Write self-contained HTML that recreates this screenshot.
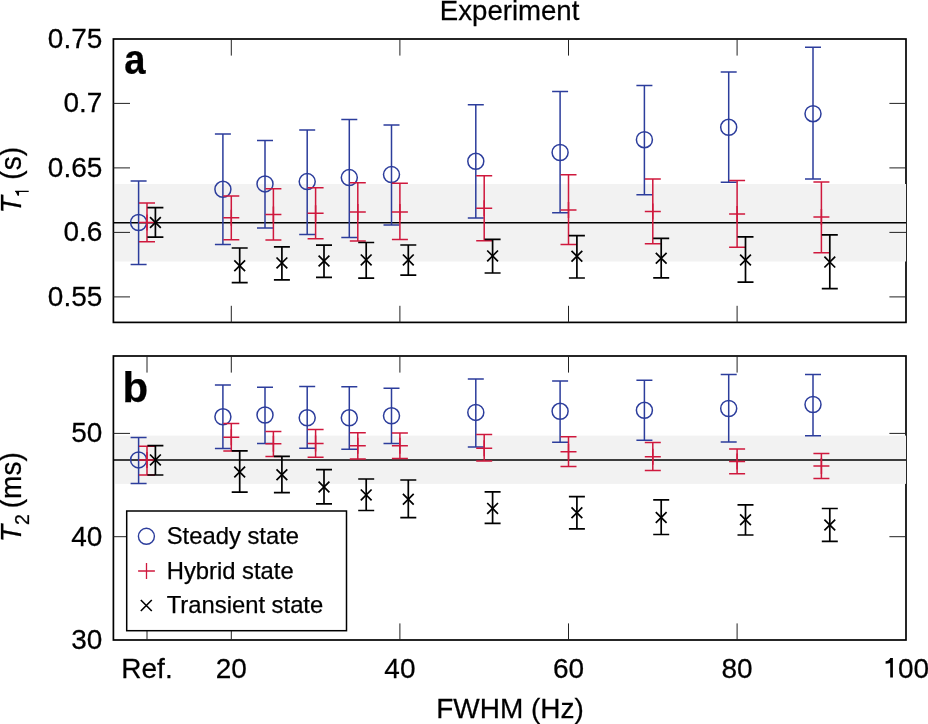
<!DOCTYPE html>
<html><head><meta charset="utf-8"><style>
html,body{margin:0;padding:0;background:#fff;}
body{width:928px;height:724px;overflow:hidden;}
svg{display:block;will-change:transform;}
text{font-family:"Liberation Sans", sans-serif;font-size:28px;fill:#000;stroke:#000;stroke-width:0.25px;}
</style></head><body>
<svg width="928" height="724" viewBox="0 0 928 724">
<rect width="928" height="724" fill="#fff"/>
<rect x="113.4" y="39.0" width="792.6" height="283.4" fill="#fff" stroke="#000" stroke-width="1.7"/>
<rect x="115.2" y="184.0" width="790.8" height="77.5" fill="#f2f2f2"/>
<path d="M231.3 39.0v16.6M231.3 322.4v-16.6M399.9 39.0v16.6M399.9 322.4v-16.6M568.5 39.0v16.6M568.5 322.4v-16.6M737.1 39.0v16.6M737.1 322.4v-16.6M113.4 103.4h16.6M906.0 103.4h-16.6M113.4 167.9h16.6M906.0 167.9h-16.6M113.4 232.4h16.6M906.0 232.4h-16.6M113.4 296.9h16.6M906.0 296.9h-16.6" stroke="#222" stroke-width="1" fill="none"/>
<path d="M113.4 222.75H906.0" stroke="#000" stroke-width="1.6"/>
<path d="M138.6 180.9V264.4M130.6 180.9H146.6M130.6 264.4H146.6" stroke="#2c3d9c" stroke-width="1.5" fill="none"/>
<circle cx="138.6" cy="222.5" r="8" stroke="#2c3d9c" stroke-width="1.5" fill="none"/>
<path d="M222.9 134.1V244.5M214.9 134.1H230.9M214.9 244.5H230.9" stroke="#2c3d9c" stroke-width="1.5" fill="none"/>
<circle cx="222.9" cy="189.3" r="8" stroke="#2c3d9c" stroke-width="1.5" fill="none"/>
<path d="M265.0 140.4V228.1M257.0 140.4H273.0M257.0 228.1H273.0" stroke="#2c3d9c" stroke-width="1.5" fill="none"/>
<circle cx="265.0" cy="183.9" r="8" stroke="#2c3d9c" stroke-width="1.5" fill="none"/>
<path d="M307.2 129.9V234.4M299.2 129.9H315.2M299.2 234.4H315.2" stroke="#2c3d9c" stroke-width="1.5" fill="none"/>
<circle cx="307.2" cy="181.6" r="8" stroke="#2c3d9c" stroke-width="1.5" fill="none"/>
<path d="M349.3 119.4V237.5M341.3 119.4H357.3M341.3 237.5H357.3" stroke="#2c3d9c" stroke-width="1.5" fill="none"/>
<circle cx="349.3" cy="177.6" r="8" stroke="#2c3d9c" stroke-width="1.5" fill="none"/>
<path d="M391.5 124.9V225.1M383.5 124.9H399.5M383.5 225.1H399.5" stroke="#2c3d9c" stroke-width="1.5" fill="none"/>
<circle cx="391.5" cy="174.6" r="8" stroke="#2c3d9c" stroke-width="1.5" fill="none"/>
<path d="M475.8 104.7V218.0M467.8 104.7H483.8M467.8 218.0H483.8" stroke="#2c3d9c" stroke-width="1.5" fill="none"/>
<circle cx="475.8" cy="161.3" r="8" stroke="#2c3d9c" stroke-width="1.5" fill="none"/>
<path d="M560.1 91.6V212.8M552.1 91.6H568.1M552.1 212.8H568.1" stroke="#2c3d9c" stroke-width="1.5" fill="none"/>
<circle cx="560.1" cy="152.5" r="8" stroke="#2c3d9c" stroke-width="1.5" fill="none"/>
<path d="M644.4 85.4V194.7M636.4 85.4H652.4M636.4 194.7H652.4" stroke="#2c3d9c" stroke-width="1.5" fill="none"/>
<circle cx="644.4" cy="139.7" r="8" stroke="#2c3d9c" stroke-width="1.5" fill="none"/>
<path d="M728.7 72.1V182.2M720.7 72.1H736.7M720.7 182.2H736.7" stroke="#2c3d9c" stroke-width="1.5" fill="none"/>
<circle cx="728.7" cy="127.3" r="8" stroke="#2c3d9c" stroke-width="1.5" fill="none"/>
<path d="M813.0 47.2V179.1M805.0 47.2H821.0M805.0 179.1H821.0" stroke="#2c3d9c" stroke-width="1.5" fill="none"/>
<circle cx="813.0" cy="113.7" r="8" stroke="#2c3d9c" stroke-width="1.5" fill="none"/>
<path d="M147.0 203.1V241.8M139.0 203.1H155.0M139.0 241.8H155.0" stroke="#cf183d" stroke-width="1.5" fill="none"/>
<path d="M139.0 222.5H155.0M147.0 214.5V230.5" stroke="#cf183d" stroke-width="1.5" fill="none"/>
<path d="M231.3 195.9V239.8M223.3 195.9H239.3M223.3 239.8H239.3" stroke="#cf183d" stroke-width="1.5" fill="none"/>
<path d="M223.3 217.7H239.3M231.3 209.7V225.7" stroke="#cf183d" stroke-width="1.5" fill="none"/>
<path d="M273.4 188.8V240.1M265.4 188.8H281.4M265.4 240.1H281.4" stroke="#cf183d" stroke-width="1.5" fill="none"/>
<path d="M265.4 214.5H281.4M273.4 206.5V222.5" stroke="#cf183d" stroke-width="1.5" fill="none"/>
<path d="M315.6 187.7V238.7M307.6 187.7H323.6M307.6 238.7H323.6" stroke="#cf183d" stroke-width="1.5" fill="none"/>
<path d="M307.6 213.3H323.6M315.6 205.3V221.3" stroke="#cf183d" stroke-width="1.5" fill="none"/>
<path d="M357.8 182.8V241.0M349.8 182.8H365.8M349.8 241.0H365.8" stroke="#cf183d" stroke-width="1.5" fill="none"/>
<path d="M349.8 211.9H365.8M357.8 203.9V219.9" stroke="#cf183d" stroke-width="1.5" fill="none"/>
<path d="M399.9 183.3V239.5M391.9 183.3H407.9M391.9 239.5H407.9" stroke="#cf183d" stroke-width="1.5" fill="none"/>
<path d="M391.9 211.9H407.9M399.9 203.9V219.9" stroke="#cf183d" stroke-width="1.5" fill="none"/>
<path d="M484.2 175.7V240.7M476.2 175.7H492.2M476.2 240.7H492.2" stroke="#cf183d" stroke-width="1.5" fill="none"/>
<path d="M476.2 208.3H492.2M484.2 200.3V216.3" stroke="#cf183d" stroke-width="1.5" fill="none"/>
<path d="M568.5 174.8V244.6M560.5 174.8H576.5M560.5 244.6H576.5" stroke="#cf183d" stroke-width="1.5" fill="none"/>
<path d="M560.5 209.9H576.5M568.5 201.9V217.9" stroke="#cf183d" stroke-width="1.5" fill="none"/>
<path d="M652.8 179.0V243.7M644.8 179.0H660.8M644.8 243.7H660.8" stroke="#cf183d" stroke-width="1.5" fill="none"/>
<path d="M644.8 211.6H660.8M652.8 203.6V219.6" stroke="#cf183d" stroke-width="1.5" fill="none"/>
<path d="M737.1 180.6V247.3M729.1 180.6H745.1M729.1 247.3H745.1" stroke="#cf183d" stroke-width="1.5" fill="none"/>
<path d="M729.1 214.0H745.1M737.1 206.0V222.0" stroke="#cf183d" stroke-width="1.5" fill="none"/>
<path d="M821.4 181.9V252.7M813.4 181.9H829.4M813.4 252.7H829.4" stroke="#cf183d" stroke-width="1.5" fill="none"/>
<path d="M813.4 217.1H829.4M821.4 209.1V225.1" stroke="#cf183d" stroke-width="1.5" fill="none"/>
<path d="M155.4 207.6V237.1M147.4 207.6H163.4M147.4 237.1H163.4" stroke="#000" stroke-width="1.7" fill="none"/>
<path d="M150.0 217.1L160.8 227.9M150.0 227.9L160.8 217.1" stroke="#000" stroke-width="1.7" fill="none"/>
<path d="M239.7 248.0V282.6M231.7 248.0H247.7M231.7 282.6H247.7" stroke="#000" stroke-width="1.7" fill="none"/>
<path d="M234.3 260.3L245.1 271.1M234.3 271.1L245.1 260.3" stroke="#000" stroke-width="1.7" fill="none"/>
<path d="M281.9 246.9V279.8M273.9 246.9H289.9M273.9 279.8H289.9" stroke="#000" stroke-width="1.7" fill="none"/>
<path d="M276.5 257.5L287.3 268.3M276.5 268.3L287.3 257.5" stroke="#000" stroke-width="1.7" fill="none"/>
<path d="M324.0 245.2V277.4M316.0 245.2H332.0M316.0 277.4H332.0" stroke="#000" stroke-width="1.7" fill="none"/>
<path d="M318.6 255.6L329.4 266.4M318.6 266.4L329.4 255.6" stroke="#000" stroke-width="1.7" fill="none"/>
<path d="M366.2 242.5V278.1M358.2 242.5H374.2M358.2 278.1H374.2" stroke="#000" stroke-width="1.7" fill="none"/>
<path d="M360.8 254.5L371.6 265.3M360.8 265.3L371.6 254.5" stroke="#000" stroke-width="1.7" fill="none"/>
<path d="M408.3 245.0V275.1M400.3 245.0H416.3M400.3 275.1H416.3" stroke="#000" stroke-width="1.7" fill="none"/>
<path d="M402.9 254.5L413.7 265.3M402.9 265.3L413.7 254.5" stroke="#000" stroke-width="1.7" fill="none"/>
<path d="M492.6 239.3V273.0M484.6 239.3H500.6M484.6 273.0H500.6" stroke="#000" stroke-width="1.7" fill="none"/>
<path d="M487.2 250.5L498.0 261.3M487.2 261.3L498.0 250.5" stroke="#000" stroke-width="1.7" fill="none"/>
<path d="M576.9 235.7V278.0M568.9 235.7H584.9M568.9 278.0H584.9" stroke="#000" stroke-width="1.7" fill="none"/>
<path d="M571.5 250.8L582.3 261.6M571.5 261.6L582.3 250.8" stroke="#000" stroke-width="1.7" fill="none"/>
<path d="M661.2 238.3V277.9M653.2 238.3H669.2M653.2 277.9H669.2" stroke="#000" stroke-width="1.7" fill="none"/>
<path d="M655.8 252.9L666.6 263.7M655.8 263.7L666.6 252.9" stroke="#000" stroke-width="1.7" fill="none"/>
<path d="M745.5 236.8V282.2M737.5 236.8H753.5M737.5 282.2H753.5" stroke="#000" stroke-width="1.7" fill="none"/>
<path d="M740.1 254.6L750.9 265.4M740.1 265.4L750.9 254.6" stroke="#000" stroke-width="1.7" fill="none"/>
<path d="M829.8 234.8V288.6M821.8 234.8H837.8M821.8 288.6H837.8" stroke="#000" stroke-width="1.7" fill="none"/>
<path d="M824.4 256.7L835.2 267.5M824.4 267.5L835.2 256.7" stroke="#000" stroke-width="1.7" fill="none"/>
<rect x="113.4" y="356.0" width="792.6" height="284.0" fill="#fff" stroke="#000" stroke-width="1.7"/>
<rect x="115.2" y="435.6" width="790.8" height="48.3" fill="#f2f2f2"/>
<path d="M147.0 356.0v16.6M147.0 640.0v-16.6M231.3 356.0v16.6M231.3 640.0v-16.6M399.9 356.0v16.6M399.9 640.0v-16.6M568.5 356.0v16.6M568.5 640.0v-16.6M737.1 356.0v16.6M737.1 640.0v-16.6M113.4 536.7h16.6M906.0 536.7h-16.6M113.4 433.4h16.6M906.0 433.4h-16.6" stroke="#222" stroke-width="1" fill="none"/>
<path d="M113.4 460.0H906.0" stroke="#000" stroke-width="1.6"/>
<path d="M138.6 437.6V483.5M130.6 437.6H146.6M130.6 483.5H146.6" stroke="#2c3d9c" stroke-width="1.5" fill="none"/>
<circle cx="138.6" cy="459.9" r="8" stroke="#2c3d9c" stroke-width="1.5" fill="none"/>
<path d="M222.9 384.9V448.6M214.9 384.9H230.9M214.9 448.6H230.9" stroke="#2c3d9c" stroke-width="1.5" fill="none"/>
<circle cx="222.9" cy="416.8" r="8" stroke="#2c3d9c" stroke-width="1.5" fill="none"/>
<path d="M265.0 387.2V443.6M257.0 387.2H273.0M257.0 443.6H273.0" stroke="#2c3d9c" stroke-width="1.5" fill="none"/>
<circle cx="265.0" cy="415.0" r="8" stroke="#2c3d9c" stroke-width="1.5" fill="none"/>
<path d="M307.2 386.5V448.3M299.2 386.5H315.2M299.2 448.3H315.2" stroke="#2c3d9c" stroke-width="1.5" fill="none"/>
<circle cx="307.2" cy="417.8" r="8" stroke="#2c3d9c" stroke-width="1.5" fill="none"/>
<path d="M349.3 386.7V449.3M341.3 386.7H357.3M341.3 449.3H357.3" stroke="#2c3d9c" stroke-width="1.5" fill="none"/>
<circle cx="349.3" cy="417.8" r="8" stroke="#2c3d9c" stroke-width="1.5" fill="none"/>
<path d="M391.5 388.2V443.5M383.5 388.2H399.5M383.5 443.5H399.5" stroke="#2c3d9c" stroke-width="1.5" fill="none"/>
<circle cx="391.5" cy="415.8" r="8" stroke="#2c3d9c" stroke-width="1.5" fill="none"/>
<path d="M475.8 378.9V447.0M467.8 378.9H483.8M467.8 447.0H483.8" stroke="#2c3d9c" stroke-width="1.5" fill="none"/>
<circle cx="475.8" cy="412.4" r="8" stroke="#2c3d9c" stroke-width="1.5" fill="none"/>
<path d="M560.1 381.1V442.2M552.1 381.1H568.1M552.1 442.2H568.1" stroke="#2c3d9c" stroke-width="1.5" fill="none"/>
<circle cx="560.1" cy="411.3" r="8" stroke="#2c3d9c" stroke-width="1.5" fill="none"/>
<path d="M644.4 380.3V440.3M636.4 380.3H652.4M636.4 440.3H652.4" stroke="#2c3d9c" stroke-width="1.5" fill="none"/>
<circle cx="644.4" cy="410.3" r="8" stroke="#2c3d9c" stroke-width="1.5" fill="none"/>
<path d="M728.7 374.5V442.0M720.7 374.5H736.7M720.7 442.0H736.7" stroke="#2c3d9c" stroke-width="1.5" fill="none"/>
<circle cx="728.7" cy="408.5" r="8" stroke="#2c3d9c" stroke-width="1.5" fill="none"/>
<path d="M813.0 374.4V435.7M805.0 374.4H821.0M805.0 435.7H821.0" stroke="#2c3d9c" stroke-width="1.5" fill="none"/>
<circle cx="813.0" cy="404.5" r="8" stroke="#2c3d9c" stroke-width="1.5" fill="none"/>
<path d="M147.0 446.2V474.9M139.0 446.2H155.0M139.0 474.9H155.0" stroke="#cf183d" stroke-width="1.5" fill="none"/>
<path d="M139.0 459.9H155.0M147.0 451.9V467.9" stroke="#cf183d" stroke-width="1.5" fill="none"/>
<path d="M231.3 423.5V451.0M223.3 423.5H239.3M223.3 451.0H239.3" stroke="#cf183d" stroke-width="1.5" fill="none"/>
<path d="M223.3 437.3H239.3M231.3 429.3V445.3" stroke="#cf183d" stroke-width="1.5" fill="none"/>
<path d="M273.4 431.6V456.4M265.4 431.6H281.4M265.4 456.4H281.4" stroke="#cf183d" stroke-width="1.5" fill="none"/>
<path d="M265.4 443.8H281.4M273.4 435.8V451.8" stroke="#cf183d" stroke-width="1.5" fill="none"/>
<path d="M315.6 429.6V457.2M307.6 429.6H323.6M307.6 457.2H323.6" stroke="#cf183d" stroke-width="1.5" fill="none"/>
<path d="M307.6 443.5H323.6M315.6 435.5V451.5" stroke="#cf183d" stroke-width="1.5" fill="none"/>
<path d="M357.8 432.7V459.1M349.8 432.7H365.8M349.8 459.1H365.8" stroke="#cf183d" stroke-width="1.5" fill="none"/>
<path d="M349.8 445.8H365.8M357.8 437.8V453.8" stroke="#cf183d" stroke-width="1.5" fill="none"/>
<path d="M399.9 433.1V458.5M391.9 433.1H407.9M391.9 458.5H407.9" stroke="#cf183d" stroke-width="1.5" fill="none"/>
<path d="M391.9 445.7H407.9M399.9 437.7V453.7" stroke="#cf183d" stroke-width="1.5" fill="none"/>
<path d="M484.2 434.5V460.9M476.2 434.5H492.2M476.2 460.9H492.2" stroke="#cf183d" stroke-width="1.5" fill="none"/>
<path d="M476.2 448.2H492.2M484.2 440.2V456.2" stroke="#cf183d" stroke-width="1.5" fill="none"/>
<path d="M568.5 436.7V466.5M560.5 436.7H576.5M560.5 466.5H576.5" stroke="#cf183d" stroke-width="1.5" fill="none"/>
<path d="M560.5 451.7H576.5M568.5 443.7V459.7" stroke="#cf183d" stroke-width="1.5" fill="none"/>
<path d="M652.8 442.5V470.6M644.8 442.5H660.8M644.8 470.6H660.8" stroke="#cf183d" stroke-width="1.5" fill="none"/>
<path d="M644.8 456.7H660.8M652.8 448.7V464.7" stroke="#cf183d" stroke-width="1.5" fill="none"/>
<path d="M737.1 449.0V473.8M729.1 449.0H745.1M729.1 473.8H745.1" stroke="#cf183d" stroke-width="1.5" fill="none"/>
<path d="M729.1 461.5H745.1M737.1 453.5V469.5" stroke="#cf183d" stroke-width="1.5" fill="none"/>
<path d="M821.4 453.5V478.4M813.4 453.5H829.4M813.4 478.4H829.4" stroke="#cf183d" stroke-width="1.5" fill="none"/>
<path d="M813.4 466.1H829.4M821.4 458.1V474.1" stroke="#cf183d" stroke-width="1.5" fill="none"/>
<path d="M155.4 445.7V475.0M147.4 445.7H163.4M147.4 475.0H163.4" stroke="#000" stroke-width="1.7" fill="none"/>
<path d="M150.0 454.5L160.8 465.3M150.0 465.3L160.8 454.5" stroke="#000" stroke-width="1.7" fill="none"/>
<path d="M239.7 450.8V492.1M231.7 450.8H247.7M231.7 492.1H247.7" stroke="#000" stroke-width="1.7" fill="none"/>
<path d="M234.3 466.6L245.1 477.4M234.3 477.4L245.1 466.6" stroke="#000" stroke-width="1.7" fill="none"/>
<path d="M281.9 456.4V492.6M273.9 456.4H289.9M273.9 492.6H289.9" stroke="#000" stroke-width="1.7" fill="none"/>
<path d="M276.5 469.3L287.3 480.1M276.5 480.1L287.3 469.3" stroke="#000" stroke-width="1.7" fill="none"/>
<path d="M324.0 469.6V503.8M316.0 469.6H332.0M316.0 503.8H332.0" stroke="#000" stroke-width="1.7" fill="none"/>
<path d="M318.6 481.6L329.4 492.4M318.6 492.4L329.4 481.6" stroke="#000" stroke-width="1.7" fill="none"/>
<path d="M366.2 479.0V510.5M358.2 479.0H374.2M358.2 510.5H374.2" stroke="#000" stroke-width="1.7" fill="none"/>
<path d="M360.8 489.5L371.6 500.3M360.8 500.3L371.6 489.5" stroke="#000" stroke-width="1.7" fill="none"/>
<path d="M408.3 480.0V517.6M400.3 480.0H416.3M400.3 517.6H416.3" stroke="#000" stroke-width="1.7" fill="none"/>
<path d="M402.9 493.8L413.7 504.6M402.9 504.6L413.7 493.8" stroke="#000" stroke-width="1.7" fill="none"/>
<path d="M492.6 491.8V523.4M484.6 491.8H500.6M484.6 523.4H500.6" stroke="#000" stroke-width="1.7" fill="none"/>
<path d="M487.2 503.0L498.0 513.8M487.2 513.8L498.0 503.0" stroke="#000" stroke-width="1.7" fill="none"/>
<path d="M576.9 496.7V528.9M568.9 496.7H584.9M568.9 528.9H584.9" stroke="#000" stroke-width="1.7" fill="none"/>
<path d="M571.5 507.4L582.3 518.2M571.5 518.2L582.3 507.4" stroke="#000" stroke-width="1.7" fill="none"/>
<path d="M661.2 499.9V534.5M653.2 499.9H669.2M653.2 534.5H669.2" stroke="#000" stroke-width="1.7" fill="none"/>
<path d="M655.8 512.1L666.6 522.9M655.8 522.9L666.6 512.1" stroke="#000" stroke-width="1.7" fill="none"/>
<path d="M745.5 504.8V535.0M737.5 504.8H753.5M737.5 535.0H753.5" stroke="#000" stroke-width="1.7" fill="none"/>
<path d="M740.1 514.4L750.9 525.2M740.1 525.2L750.9 514.4" stroke="#000" stroke-width="1.7" fill="none"/>
<path d="M829.8 508.5V541.3M821.8 508.5H837.8M821.8 541.3H837.8" stroke="#000" stroke-width="1.7" fill="none"/>
<path d="M824.4 519.6L835.2 530.4M824.4 530.4L835.2 519.6" stroke="#000" stroke-width="1.7" fill="none"/>
<text transform="matrix(1 0 0 1.01 102.30 47.90)" text-anchor="end">0.75</text>
<text transform="matrix(1 0 0 1.01 102.30 112.40)" text-anchor="end">0.7</text>
<text transform="matrix(1 0 0 1.01 102.30 176.90)" text-anchor="end">0.65</text>
<text transform="matrix(1 0 0 1.01 102.30 241.40)" text-anchor="end">0.6</text>
<text transform="matrix(1 0 0 1.01 102.30 305.90)" text-anchor="end">0.55</text>
<text transform="matrix(1 0 0 1.01 102.30 649.00)" text-anchor="end">30</text>
<text transform="matrix(1 0 0 1.01 102.30 545.70)" text-anchor="end">40</text>
<text transform="matrix(1 0 0 1.01 102.30 442.40)" text-anchor="end">50</text>
<text transform="matrix(1 0 0 1.01 147.00 678.40)" text-anchor="middle">Ref.</text>
<text transform="matrix(1 0 0 1.01 231.30 677.70)" text-anchor="middle">20</text>
<text transform="matrix(1 0 0 1.01 399.90 677.70)" text-anchor="middle">40</text>
<text transform="matrix(1 0 0 1.01 568.50 677.70)" text-anchor="middle">60</text>
<text transform="matrix(1 0 0 1.01 737.10 677.70)" text-anchor="middle">80</text>
<text transform="matrix(1 0 0 1.01 905.70 677.70)" text-anchor="middle"><tspan style="fill:transparent;stroke:none">1</tspan>00</text>
<path d="M890.2 658.1H892.9V677.6H890.2V662.9C889 663.3 887.5 663.6 885.6 663.8V661.3C887.8 661.1 889.6 660.1 890.2 658.1Z"/>
<text transform="matrix(1 0 0 1.01 509.60 20.20)" text-anchor="middle" style="font-size:27.6px">Experiment</text>
<text transform="matrix(1 0 0 1.01 510.00 717.90)" text-anchor="middle">FWHM (Hz)</text>
<text transform="translate(20.9 180.1) rotate(-90) scale(1 1.04)" text-anchor="middle"><tspan style="font-style:italic">T</tspan><tspan style="font-size:19.5px;fill:transparent;stroke:none" dy="7.5">1</tspan><tspan dy="-7.5" dx="-2.2"> (s)</tspan></text>
<text transform="translate(20.9 497.2) rotate(-90) scale(1 1.04)" text-anchor="middle"><tspan style="font-style:italic">T</tspan><tspan style="font-size:19.5px" dy="7.5">2</tspan><tspan dy="-7.5" dx="-1.8"> (ms)</tspan></text>
<path d="M15.1 190.7H28.7V192.1H19.1L19.0 195.8H17.7L15.8 192.1H15.1Z"/>
<text transform="matrix(0.91 0 0 1 134.9 74.0)" text-anchor="middle" style="font-weight:bold;font-size:42px">a</text>
<text transform="matrix(1 0 0 1.0 122.40 402.00)" style="font-weight:bold;font-size:42px">b</text>
<rect x="126.7" y="511.0" width="219.8" height="119.7" fill="#fff" stroke="#000" stroke-width="1.5"/>
<circle cx="146.4" cy="536.3" r="8" stroke="#2c3d9c" stroke-width="1.4" fill="none"/>
<path d="M138.1 571H154.9M146.5 563V579" stroke="#cf183d" stroke-width="1.3" fill="none"/>
<path d="M140.8 600L151.8 611M140.8 611L151.8 600" stroke="#000" stroke-width="1.6" fill="none"/>
<text transform="matrix(1 0 0 1.0 166.70 544.30)" style="font-size:23.8px">Steady state</text>
<text transform="matrix(1 0 0 1.0 166.70 578.60)" style="font-size:23.8px">Hybrid state</text>
<text transform="matrix(1 0 0 1.0 166.70 612.80)" style="font-size:23.8px">Transient state</text>
</svg>
</body></html>
